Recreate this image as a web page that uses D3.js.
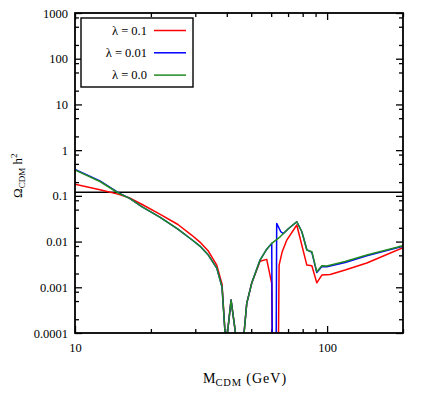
<html>
<head>
  <meta charset="utf-8">
  <script src="https://d3js.org/d3.v7.min.js"></script>
  <style>
    body { margin: 0; background: #fff; }
  </style>
</head>
<body>
<div id="my_dataviz"></div>
<script>
// ---- data ----
var massRed   = [10, 12.56, 14.8, 16.53, 18.4, 21.7, 25.6, 29.0, 31.3, 33.8, 36.5, 38.3, 39.7, 41.6, 44.05, 46.3, 48.0, 50.2, 54.2, 57.6, 60.3, 60.6, 64.1, 64.5, 66.3, 69.2, 75.8, 83.1, 87.0, 91.0, 95.3, 102.8, 117.9, 143.7, 200];
var omegaRed  = [0.179, 0.136, 0.109, 0.0895, 0.0655, 0.040, 0.0236, 0.0139, 0.00975, 0.00619, 0.00306, 0.00117, 0.00005, 0.000525, 0.00005, 0.00005, 0.000444, 0.00122, 0.0037, 0.00408, 0.00122, 0.00005, 0.00005, 0.00306, 0.00589, 0.0108, 0.0230, 0.00306, 0.00295, 0.00125, 0.00185, 0.0019, 0.00238, 0.00339, 0.00731];

var massBlue  = [10, 12.56, 14.8, 16.53, 18.4, 21.7, 25.6, 29.0, 31.3, 33.8, 36.5, 38.3, 39.7, 41.6, 44.05, 46.3, 48.0, 50.2, 54.2, 57.3, 60.3, 60.6, 62.8, 63.1, 65.5, 67.1, 70.0, 75.8, 79.4, 83.1, 87.0, 91.0, 95.3, 99.7, 117.9, 143.7, 200];
var omegaBlue = [0.38, 0.212, 0.119, 0.0873, 0.0583, 0.0344, 0.0188, 0.0111, 0.00797, 0.00507, 0.00263, 0.00101, 0.00005, 0.000525, 0.00005, 0.00005, 0.000444, 0.00122, 0.00394, 0.00652, 0.00914, 0.00005, 0.00005, 0.025, 0.0164, 0.0150, 0.0188, 0.0271, 0.0164, 0.0066, 0.0058, 0.0021, 0.00285, 0.00282, 0.0035, 0.0049, 0.0079];

var massGreen  = [10, 12.56, 14.8, 16.53, 18.4, 21.7, 25.6, 29.0, 31.3, 33.8, 36.5, 38.3, 39.7, 41.6, 44.05, 46.3, 48.0, 50.2, 54.2, 57.3, 60.3, 65.1, 67.1, 70.0, 75.8, 79.4, 83.1, 87.0, 91.0, 95.3, 99.7, 117.9, 143.7, 200];
var omegaGreen = [0.367, 0.206, 0.117, 0.0873, 0.0583, 0.0344, 0.0188, 0.0111, 0.00797, 0.00507, 0.00263, 0.00101, 0.00005, 0.000525, 0.00005, 0.00005, 0.000444, 0.00122, 0.00394, 0.00652, 0.00914, 0.0127, 0.0150, 0.0188, 0.0271, 0.0164, 0.00652, 0.00598, 0.00218, 0.00295, 0.00291, 0.00365, 0.00507, 0.00809];

var seriesNames  = ["λ = 0.1", "λ = 0.01", "λ = 0.0"];
var seriesColors = ["#ff0000", "#0000ff", "#228b22"];
var omegaRelic = 0.12;

var yTicks      = [0.0001, 0.001, 0.01, 0.1, 1, 10, 100, 1000];
var yTickLabels = ["0.0001", "0.001", "0.01", "0.1", "1", "10", "100", "1000"];
var yMinorSteps = [2, 5, 8];
var xTicks      = [10, 100];
var xTickLabels = ["10", "100"];
var xMinorTicks = [20, 30, 40, 50, 60, 70, 80, 90, 200];

var serif = "'Liberation Serif', 'Times New Roman', Times, serif";

// ---- layout ----
var margin = {top: 13, right: 18, bottom: 63, left: 75},
    width = 421 - margin.left - margin.right,
    height = 396 - margin.top - margin.bottom;

var svg = d3.select("#my_dataviz")
  .append("svg")
    .attr("width", 421)
    .attr("height", 396)
  .append("g")
    .attr("transform", "translate(" + margin.left + "," + margin.top + ")");

var x = d3.scaleLog().domain([10, 200]).range([0, width]);
var y = d3.scaleLog().domain([0.0001, 1000]).range([height, 0]);

var yMinor = [];
yTicks.slice(0, -1).forEach(function(d) {
  yMinorSteps.forEach(function(k) { yMinor.push(d * k); });
});

// axes: ticks pointing inwards on all four sides
function styleAxis(g) {
  g.select(".domain").remove();
  g.selectAll(".tick line").attr("stroke", "#000").attr("stroke-width", 1.3);
  g.selectAll("text").attr("font-size", "12.5px").attr("fill", "#000");
}

svg.append("g")
  .call(d3.axisLeft(y).tickValues(yTicks).tickSize(-7).tickPadding(7)
    .tickFormat(function(d, i) { return yTickLabels[i]; }))
  .call(styleAxis);
svg.append("g")
  .call(d3.axisLeft(y).tickValues(yMinor).tickSize(-4).tickFormat(""))
  .call(styleAxis);
svg.append("g")
  .attr("transform", "translate(" + width + ",0)")
  .call(d3.axisRight(y).tickValues(yTicks).tickSize(-7).tickFormat(""))
  .call(styleAxis);
svg.append("g")
  .attr("transform", "translate(" + width + ",0)")
  .call(d3.axisRight(y).tickValues(yMinor).tickSize(-4).tickFormat(""))
  .call(styleAxis);

svg.append("g")
  .attr("transform", "translate(0," + height + ")")
  .call(d3.axisBottom(x).tickValues(xTicks).tickSize(-7).tickPadding(10)
    .tickFormat(function(d, i) { return xTickLabels[i]; }))
  .call(styleAxis);
svg.append("g")
  .attr("transform", "translate(0," + height + ")")
  .call(d3.axisBottom(x).tickValues(xMinorTicks).tickSize(-4).tickFormat(""))
  .call(styleAxis);
svg.append("g")
  .call(d3.axisTop(x).tickValues(xTicks).tickSize(-7).tickFormat(""))
  .call(styleAxis);
svg.append("g")
  .call(d3.axisTop(x).tickValues(xMinorTicks).tickSize(-4).tickFormat(""))
  .call(styleAxis);

// clip for the curves
svg.append("clipPath").attr("id", "plotclip")
  .append("rect").attr("width", width).attr("height", height);

var plot = svg.append("g").attr("clip-path", "url(#plotclip)");

// relic density line
plot.append("line")
  .attr("x1", 0).attr("x2", width)
  .attr("y1", y(omegaRelic)).attr("y2", y(omegaRelic))
  .attr("stroke", "#000").attr("stroke-width", 1.3);

var line = d3.line()
  .x(function(d) { return x(d[0]); })
  .y(function(d) { return y(d[1]); });

var curves = [
  d3.zip(massRed, omegaRed),
  d3.zip(massBlue, omegaBlue),
  d3.zip(massGreen, omegaGreen)
];

curves.forEach(function(c, i) {
  plot.append("path")
    .datum(c)
    .attr("fill", "none")
    .attr("stroke", seriesColors[i])
    .attr("stroke-width", 1.5)
    .attr("stroke-linejoin", "round")
    .attr("d", line);
});

// frame
svg.append("rect")
  .attr("width", width).attr("height", height)
  .attr("fill", "none").attr("stroke", "#000").attr("stroke-width", 1.8);

// legend
var legend = svg.append("g").attr("transform", "translate(6,5)");
legend.append("rect")
  .attr("width", 112).attr("height", 69)
  .attr("fill", "#fff").attr("stroke", "#000").attr("stroke-width", 1.4);
seriesNames.forEach(function(name, i) {
  var yy = 12.5 + i * 22.3;
  legend.append("text")
    .attr("x", 66).attr("y", yy + 4.3)
    .attr("text-anchor", "end")
    .attr("font-size", "12.5px")
    .text(name);
  legend.append("line")
    .attr("x1", 73).attr("x2", 105)
    .attr("y1", yy).attr("y2", yy)
    .attr("stroke", seriesColors[i]).attr("stroke-width", 1.5);
});

// x axis label
var xl = svg.append("text")
  .attr("x", 128).attr("y", height + 50)
  .attr("font-size", "14px");
xl.append("tspan").text("M");
xl.append("tspan").attr("font-size", "10.5px").attr("dy", 3)
  .attr("letter-spacing", "0.8px").text("CDM");
xl.append("tspan").attr("dy", -3).attr("letter-spacing", "1px").text(" (GeV)");

// y axis label
var yl = svg.append("text")
  .attr("transform", "translate(" + (-53) + "," + 185 + ") rotate(-90)")
  .attr("font-size", "13px");
yl.append("tspan").text("Ω");
yl.append("tspan").attr("font-size", "9px").attr("dy", 3).text("CDM");
yl.append("tspan").attr("dy", -3).text(" h");
yl.append("tspan").attr("font-size", "9px").attr("dy", -5).text("2");

// serif everywhere (axis groups default to sans-serif)
d3.selectAll("text").style("font-family", serif);
</script>
</body>
</html>
